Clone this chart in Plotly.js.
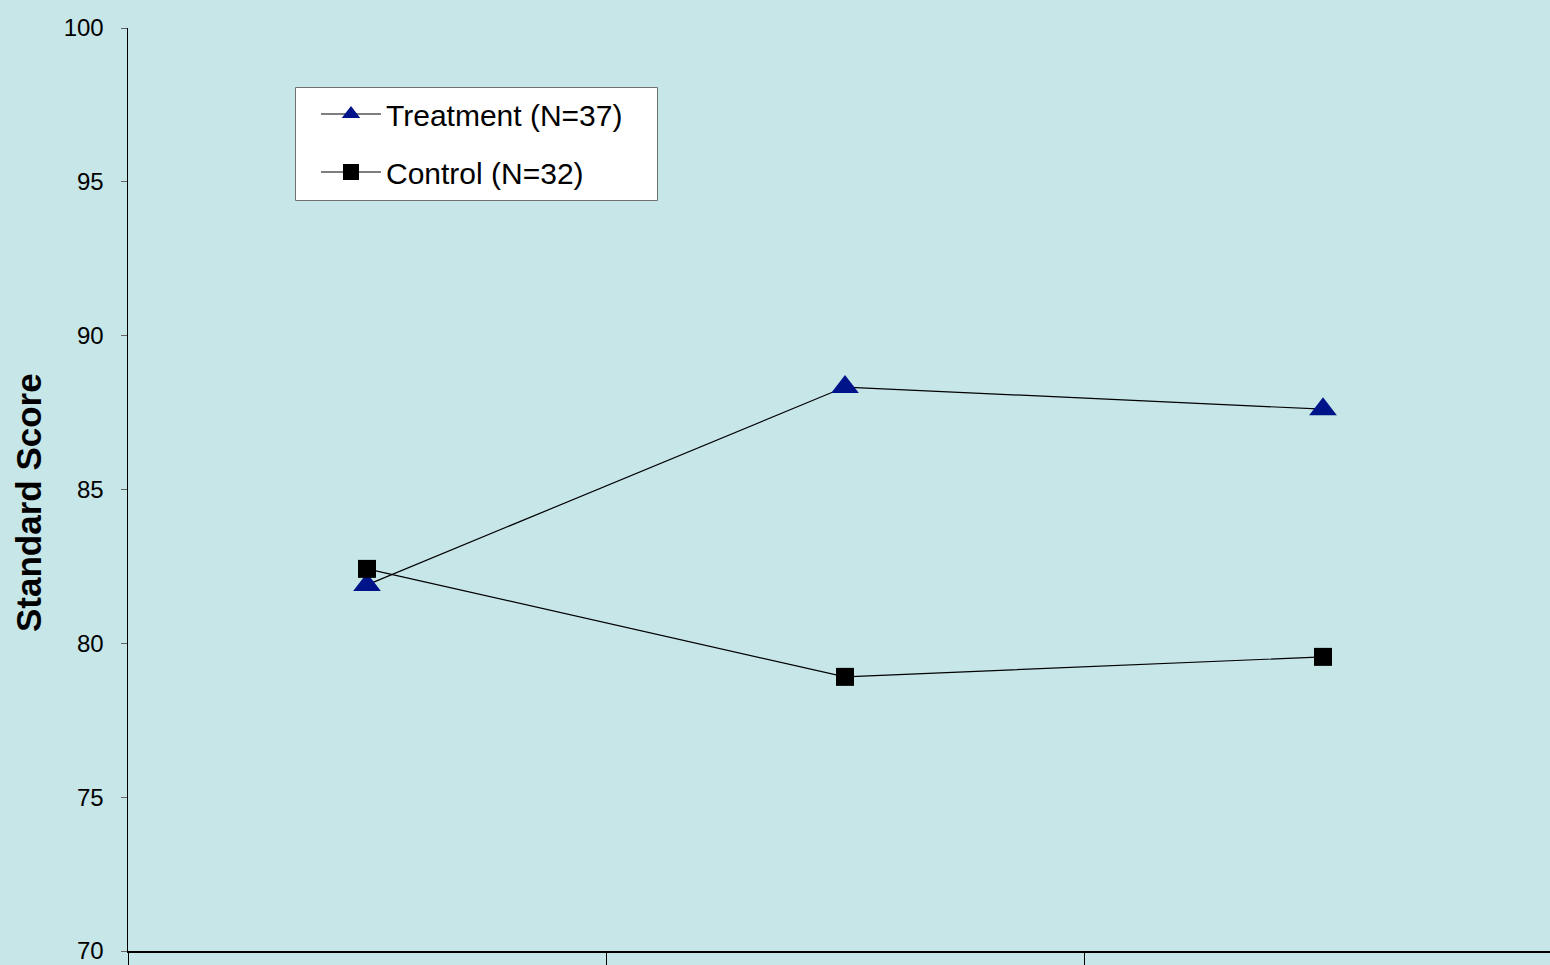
<!DOCTYPE html>
<html>
<head>
<meta charset="utf-8">
<script src="https://cdn.plot.ly/plotly-3.0.1.min.js"></script>
<style>html,body{margin:0;padding:0;overflow:hidden;background:#C6E6E8;}</style>
</head>
<body>
<div id="chart" style="width:1550px;height:965px;"></div>
<script>
// Data
var timepoints = [1, 2, 3];
var treatmentName = 'Treatment (N=37)';
var treatmentScores = [81.9, 88.33, 87.61];
var controlName = 'Control (N=32)';
var controlScores = [82.42, 78.91, 79.56];
var yTickVals = [70, 75, 80, 85, 90, 95, 100];
var xBoundaries = [0.5, 1.5, 2.5, 3.5];
var yTitle = 'Standard Score';

var bg = '#C6E6E8';
var fontFam = 'Arial, "Liberation Sans", sans-serif';

// pixel helpers for paper positions (plot area: x 128..1550, y 28..951)
function px(x) { return (x - 128) / 1422; }
function py(y) { return (951 - y) / 923; }

var traces = [
  {
    x: timepoints, y: treatmentScores, name: treatmentName,
    type: 'scatter', mode: 'lines+markers',
    line: {color: '#000000', width: 1.2},
    marker: {symbol: 'triangle-up', size: 24, color: '#001489'},
    legendgroup: 'a'
  },
  {
    x: timepoints, y: controlScores, name: controlName,
    type: 'scatter', mode: 'lines+markers',
    line: {color: '#000000', width: 1.2},
    marker: {symbol: 'square', size: 18, color: '#000000'},
    legendgroup: 'b'
  }
];

var layout = {
  width: 1550, height: 965,
  paper_bgcolor: bg, plot_bgcolor: bg,
  margin: {l: 128, r: 0, t: 28, b: 14, pad: 0},
  font: {family: fontFam, color: '#000000'},
  showlegend: true,
  legend: {
    x: px(316), y: py(88),
    xanchor: 'left', yanchor: 'top',
    bgcolor: 'rgba(0,0,0,0)', borderwidth: 0,
    font: {size: 30, family: fontFam},
    traceorder: 'grouped', tracegroupgap: 16,
    itemwidth: 60
  },
  shapes: [
    {
      type: 'rect', xref: 'paper', yref: 'paper',
      x0: px(295.5), x1: px(657.5), y0: py(200.5), y1: py(87.5),
      fillcolor: '#FFFFFF', line: {color: '#707070', width: 1},
      layer: 'above'
    }
  ],
  xaxis: {
    range: [0.5, 0.5 + 1422 / 478],
    showgrid: false, zeroline: false,
    showline: true, linecolor: '#000000', linewidth: 1.5,
    tickmode: 'array', tickvals: xBoundaries, ticktext: ['', '', '', ''],
    ticks: 'outside', ticklen: 16, tickcolor: '#000000', tickwidth: 1,
    fixedrange: true
  },
  yaxis: {
    range: [70, 100],
    showgrid: false, zeroline: false,
    showline: true, linecolor: '#000000', linewidth: 1.5,
    tickmode: 'array', tickvals: yTickVals,
    ticks: 'outside', ticklen: 6, tickcolor: '#666666', tickwidth: 1,
    tickfont: {size: 24, family: fontFam},
    ticklabelstandoff: 12,
    fixedrange: true
  },
  annotations: [
    {
      text: '<b>' + yTitle + '</b>', textangle: -90,
      xref: 'paper', yref: 'paper',
      x: px(29), y: py(503),
      xanchor: 'center', yanchor: 'middle', showarrow: false,
      font: {size: 35, family: fontFam, color: '#000000'}
    }
  ]
};

Plotly.newPlot('chart', traces, layout, {displayModeBar: false, staticPlot: true});
</script>
</body>
</html>
